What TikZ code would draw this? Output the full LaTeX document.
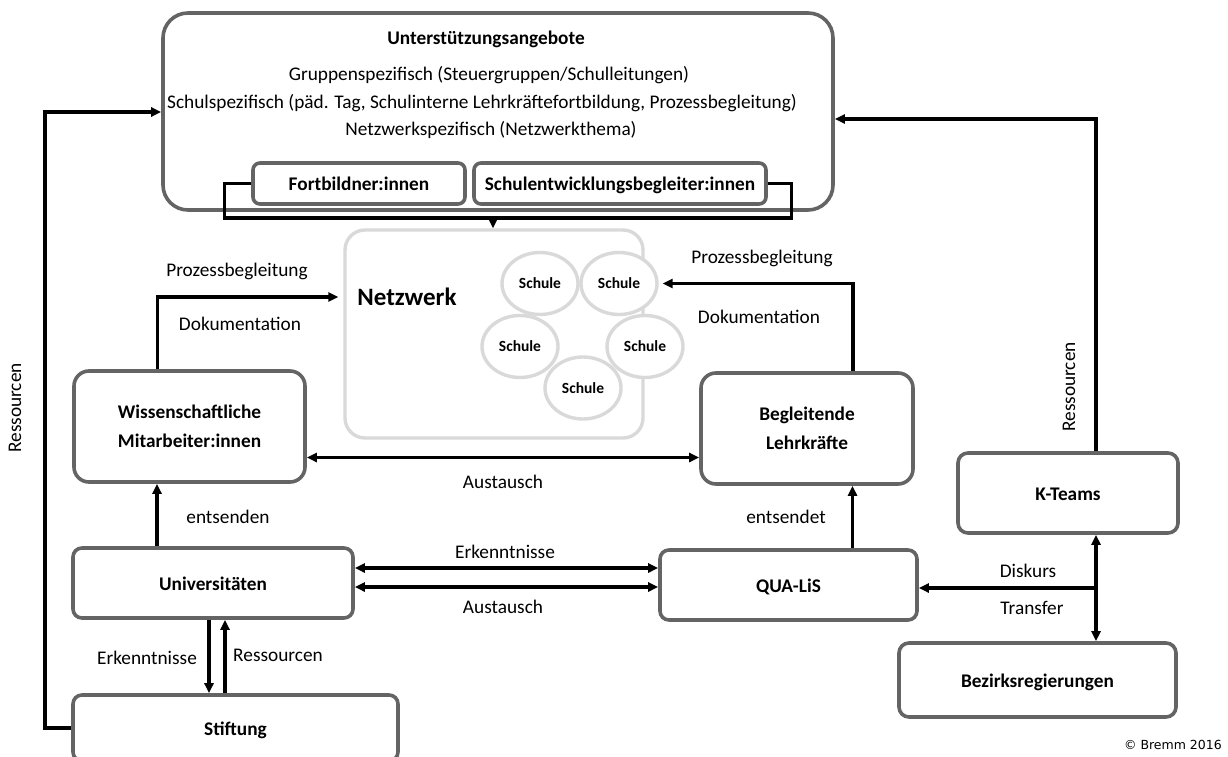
\documentclass[tikz,border=0pt]{standalone}
\usepackage{fontspec}
\setmainfont{Carlito}
\newfontfamily\copyfont{DejaVu Sans}
\usetikzlibrary{arrows.meta}
\usetikzlibrary{shapes.geometric}
\definecolor{rahmen}{RGB}{100,100,100}
\definecolor{hellgrau}{RGB}{217,217,217}

\begin{document}
\begin{tikzpicture}[x=1pt,y=-1pt,
	>={Triangle[length=10pt,width=9pt]},
	box/.style={draw=rahmen,line width=3.6pt,rounded corners=#1,inner sep=0pt,align=center,
		font=\fontsize{19.3}{29}\selectfont\bfseries},
	box/.default=9pt,
	zeile/.style={text height=17pt,text depth=3pt},
	lbl/.style={inner sep=0pt,font=\fontsize{19.3}{23}\selectfont},
	pfeil/.style={line width=3.1pt},
	schule/.style={ellipse,draw=hellgrau,fill=white,line width=3.4pt,minimum width=76pt,
		minimum height=62pt,inner sep=0pt,font=\fontsize{15.5}{18}\selectfont\bfseries}]
%		\draw[very thin,densely dashed] (0,0) grid[step=50] (1228,757);
		\useasboundingbox (0,0) rectangle (1228,757);
		\node[box=25pt,minimum width=670pt,minimum height=197pt] (angebot) at (498,111.5) {};
		\node[lbl,font=\fontsize{19.3}{23}\selectfont\bfseries] (titel) at (486,39) {Unterstützungsangebote};
		\node[lbl] (gruppe) at (489,75) {Gruppenspezifisch (Steuergruppen/Schulleitungen)};
		\node[lbl] (schulsp) at (482,103) {Schulspezifisch (päd. Tag, Schulinterne Lehrkräftefortbildung, Prozessbegleitung)};
		\node[lbl] (netzsp) at (491,130) {Netzwerkspezifisch (Netzwerkthema)};
		\node[box=7pt,zeile,minimum width=212pt,minimum height=41pt] (fortb) at (359,183.5) {Fortbildner:innen};
		\node[box=7pt,zeile,minimum width=292pt,minimum height=41pt] (seb) at (620,183.5) {Schulentwicklungsbegleiter:innen};
		% Netzwerk
		\node[draw=hellgrau,line width=3.4pt,rounded corners=20pt,minimum width=298pt,minimum height=208pt] (netz) at (494,334) {};
		\node[font=\fontsize{25}{30}\selectfont\bfseries] (netzlabel) at (407,297) {Netzwerk};
		\node[schule] (s1) at (540,283.5) {Schule};
		\node[schule] (s2) at (619,283.5) {Schule};
		\node[schule] (s3) at (520,346.5) {Schule};
		\node[schule] (s4) at (645,346.5) {Schule};
		\node[schule] (s5) at (583,388) {Schule};
		% Akteure
		\node[box=15pt,minimum width=231pt,minimum height=111pt] (wiss) at (189.5,426.5) {Wissenschaftliche\\Mitarbeiter:innen};
		\node[box=15pt,minimum width=212pt,minimum height=111pt] (begl) at (807,428.5) {Begleitende\\Lehrkräfte};
		\node[box,zeile,minimum width=280pt,minimum height=70pt] (uni) at (213,583) {Universitäten};
		\node[box,zeile,minimum width=257pt,minimum height=70pt] (qua) at (788.5,585) {QUA-LiS};
		\node[box,zeile,minimum width=325pt,minimum height=66pt] (stift) at (235.5,728) {Stiftung};
		\node[box=10pt,zeile,minimum width=220pt,minimum height=80pt] (kteam) at (1068,493) {K-Teams};
		\node[box=10pt,zeile,minimum width=277pt,minimum height=74pt] (bezirk) at (1037.5,680) {Bezirksregierungen};
		\node[anchor=east,inner sep=0pt,font=\copyfont\fontsize{12.5}{15}\selectfont] (copy) at (1222,745) {© Bremm 2016};
		% Ressourcen
		\coordinate (links) at (45,112);
		\draw[pfeil,->] (stift.west) -| (links) -- (links -| angebot.west);
		\node[lbl,rotate=90] (res1) at (15,408) {Ressourcen};
		\coordinate (rechts) at (1096,119);
		\draw[pfeil,->] (kteam.north -| rechts) -- (rechts) -- (rechts -| angebot.east);
		\node[lbl,rotate=90] (res2) at (1069,387) {Ressourcen};
		% Fortbildner und Begleiter ins Netzwerk
		\coordinate (klammer) at (493,218);
		\draw[pfeil] (fortb.west) -- ++(-27,0) |- ++(567,34.5) |- (seb.east);
		\draw[pfeil,->] (klammer) -- (klammer |- netz.north);
		% Prozessbegleitung / Dokumentation
		\draw[pfeil,->] ([xshift=-32pt]wiss.north) |- ([xshift=-5pt]netz.west |- netzlabel);
		\node[lbl] (pb1) at (237,271) {Prozessbegleitung};
		\node[lbl] (dok1) at (240,324) {Dokumentation};
		\draw[pfeil,->] ([xshift=46pt]begl.north) |- ([xshift=4pt]s2.east);
		\node[lbl] (pb2) at (762,258) {Prozessbegleitung};
		\node[lbl] (dok2) at (759,317) {Dokumentation};
		% Austausch
		\draw[pfeil,<->] ([yshift=-31pt]wiss.east) -- ([yshift=-31pt]wiss.east -| begl.west);
		\node[lbl] (aus1) at (503,482) {Austausch};
		% entsenden
		\draw[pfeil,->] ([xshift=-56pt]uni.north) -- ([xshift=-56pt]uni.north |- wiss.south);
		\node[lbl] (ents1) at (228,517) {entsenden};
		\draw[pfeil,->] ([xshift=64pt]qua.north) -- ([xshift=64pt]qua.north |- begl.south);
		\node[lbl] (ents2) at (786,517) {entsendet};
		% Universitaeten und QUA-LiS
		\draw[pfeil,<->] ([yshift=15pt]uni.east) -- ([yshift=15pt]uni.east -| qua.west);
		\draw[pfeil,<->] ([yshift=-4pt]uni.east) -- ([yshift=-4pt]uni.east -| qua.west);
		\node[lbl] (erk1) at (505,552) {Erkenntnisse};
		\node[lbl] (aus2) at (503,607) {Austausch};
		% Universitaeten und Stiftung
		\draw[pfeil,->] ([xshift=-4pt]uni.south) -- ([xshift=-4pt]uni.south |- stift.north);
		\draw[pfeil,->] ([xshift=12pt]uni.south |- stift.north) -- ([xshift=12pt]uni.south);
		\node[lbl] (erk2) at (147,658) {Erkenntnisse};
		\node[lbl] (res3) at (278,655) {Ressourcen};
		% Diskurs / Transfer
		\coordinate (knoten) at (1096,588);
		\draw[pfeil,<->] (kteam.south -| knoten) -- (bezirk.north -| knoten);
		\draw[pfeil,->] (knoten) -- (knoten -| qua.east);
		\node[lbl] (disk) at (1028,571) {Diskurs};
		\node[lbl] (trans) at (1032,608) {Transfer};
	\end{tikzpicture}
\end{document}
